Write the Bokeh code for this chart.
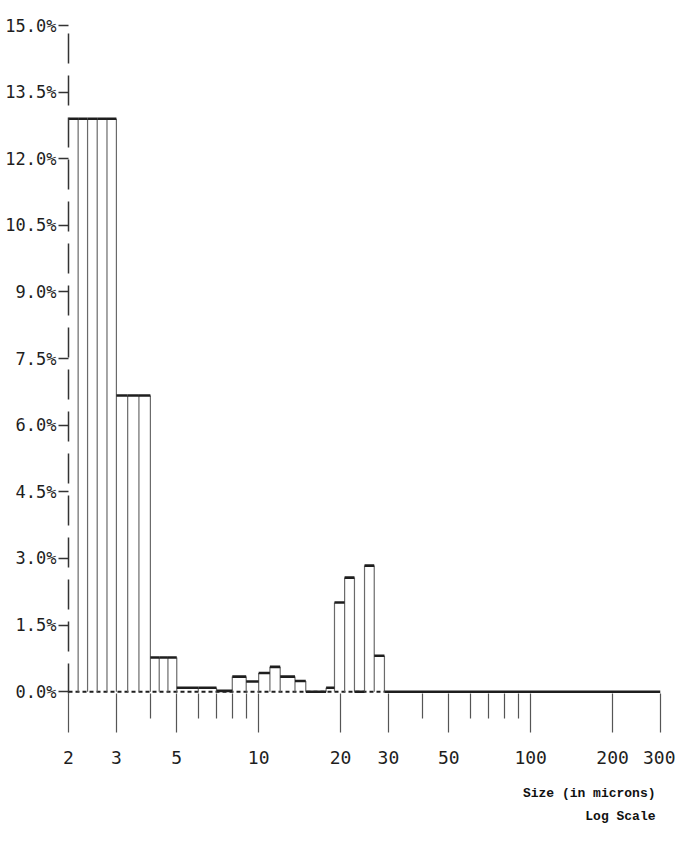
import numpy as np
from bokeh.plotting import figure
from bokeh.models import FixedTicker, Range1d, Title
from bokeh.embed import file_html
from bokeh.resources import INLINE

# ---- data ---------------------------------------------------------------
# channel edges (microns) and percentage in each channel
bin_edges = [2.0, 2.17, 2.35, 2.55, 2.77, 3.0, 3.3, 3.63, 4.0, 4.31, 4.64, 5.0,
             6.0, 7.0, 8.0, 9.0, 10.0, 11.0, 12.0, 13.6, 14.9, 17.7, 19.0,
             20.7, 22.5, 24.5, 26.6, 29.0, 300.0]
bin_pct = [12.9, 12.9, 12.9, 12.9, 12.9, 6.67, 6.67, 6.67, 0.77, 0.77, 0.77,
           0.09, 0.09, 0.02, 0.34, 0.23, 0.42, 0.56, 0.34, 0.24, 0.0, 0.09,
           2.01, 2.57, 0.0, 2.84, 0.81, 0.0]

x_major_ticks = [2, 3, 5, 10, 20, 30, 50, 100, 200, 300]
x_tick_labels = ["2", "3", "5", "10", "20", "30", "50", "100", "200", "300"]
x_minor_ticks = [4, 6, 7, 8, 9, 40, 60, 70, 80, 90]

y_ticks = [0.0, 1.5, 3.0, 4.5, 6.0, 7.5, 9.0, 10.5, 12.0, 13.5, 15.0]
y_tick_labels = ["0.0%", "1.5%", "3.0%", "4.5%", "6.0%", "7.5%", "9.0%",
                 "10.5%", "12.0%", "13.5%", "15.0%"]

x_title_lines = ["Size (in microns)", "Log Scale"]

# ---- figure ---------------------------------------------------------------
TICK_FONT = "DejaVu Sans Mono"
INK = "#1e1e1e"

p = figure(width=675, height=847, x_axis_type="log",
           x_range=Range1d(2, 300), y_range=Range1d(-0.04, 15.0),
           output_backend="svg", toolbar_location=None,
           min_border_left=68, min_border_right=15,
           min_border_top=25, min_border_bottom=154)
p.grid.visible = False
p.outline_line_color = None
p.background_fill_color = "white"
p.border_fill_color = "white"

edges = np.array(bin_edges)
h = np.array(bin_pct)
left, right = edges[:-1], edges[1:]

# dashed baseline under the non-empty channels
nz = np.nonzero(h > 0)[0]
p.line(x=[edges[0], edges[nz[-1] + 1]], y=[0, 0], line_dash="4 3",
       line_width=2, line_color=INK)

# vertical channel boundaries (skip the first, which sits on the y axis)
h_next = np.concatenate([h[1:], [0.0]])
vh = np.maximum(h, h_next)
ve = right
keep = vh > 0
p.segment(x0=ve[keep], y0=np.zeros(keep.sum()), x1=ve[keep], y1=vh[keep],
          line_width=1.2, line_color="#6a6a6a")

# channel tops
p.segment(x0=left, y0=h, x1=right, y1=h, line_width=2.6, line_color=INK)

# ---- axes -----------------------------------------------------------------
yax = p.yaxis[0]
yax.ticker = FixedTicker(ticks=y_ticks)
yax.major_label_overrides = {t: s for t, s in zip(y_ticks, y_tick_labels)}
yax.minor_tick_line_color = None
yax.major_tick_in = 0
yax.major_tick_out = 10
yax.major_tick_line_width = 1.5
yax.major_tick_line_color = "#333333"
yax.axis_line_color = "#333333"
yax.axis_line_width = 1.5
yax.axis_line_dash = "30 12"
yax.major_label_standoff = 2
yax.major_label_text_font = TICK_FONT
yax.major_label_text_font_size = "17px"
yax.major_label_text_color = INK

xax = p.xaxis[0]
xax.ticker = FixedTicker(ticks=x_major_ticks, minor_ticks=x_minor_ticks)
xax.major_label_overrides = {t: s for t, s in zip(x_major_ticks, x_tick_labels)}
xax.axis_line_color = None
xax.major_tick_in = 0
xax.major_tick_out = 39
xax.minor_tick_in = 0
xax.minor_tick_out = 25
xax.major_tick_line_color = "#555555"
xax.minor_tick_line_color = "#555555"
xax.major_tick_line_width = 1.2
xax.minor_tick_line_width = 1.2
xax.major_label_standoff = 18
xax.major_label_text_font = TICK_FONT
xax.major_label_text_font_size = "18px"
xax.major_label_text_color = INK

# caption: two right-aligned lines (monospace, so pad the short line)
width_chars = max(len(s) for s in x_title_lines)
caption = "\n".join("\u00a0" * (width_chars - len(s)) + s for s in x_title_lines)
p.add_layout(Title(text=caption, align="right",
                   text_font="Liberation Mono", text_font_style="bold",
                   text_font_size="13px", text_line_height=1.5,
                   text_color="#111111", standoff=34, offset=5), "below")

open("out.html", "w").write(file_html(p, INLINE))
